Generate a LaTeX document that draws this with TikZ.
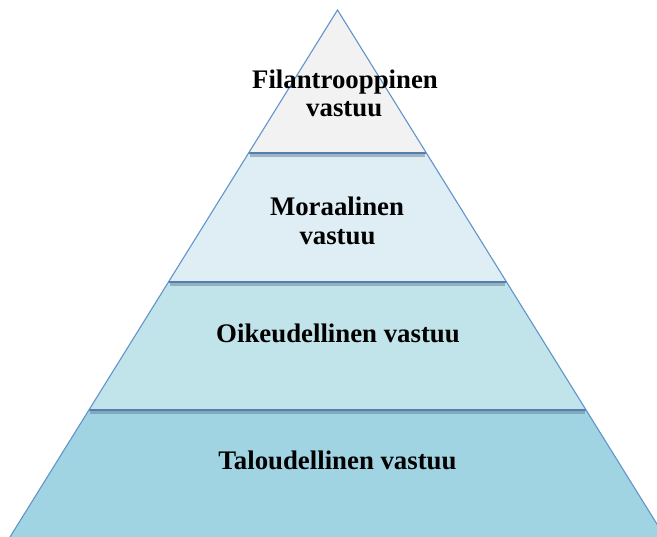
\documentclass[tikz,border=0pt]{standalone}
\usepackage{fontspec}
\setmainfont{Liberation Serif}
\usetikzlibrary{calc}
\definecolor{edgeblue}{RGB}{98,148,204}
\definecolor{shadowc}{RGB}{100,125,150}
\definecolor{bandA}{RGB}{242,242,242}
\definecolor{bandB}{RGB}{222,238,244}
\definecolor{bandC}{RGB}{193,228,234}
\definecolor{bandD}{RGB}{161,212,226}
\tikzset{
  band/.style={draw=none},
  sideline/.style={draw=edgeblue, line width=1.1pt, line join=miter},
  divider/.style={draw=edgeblue!85!black, line width=1.4pt},
  divshadow/.style={draw=shadowc, line width=2.4pt, opacity=0.5},
  label/.style={anchor=base, inner sep=0pt, font=\fontsize{26.8}{30}\selectfont\bfseries}
}
\begin{document}
\begin{tikzpicture}[x=1pt,y=-1pt]
\useasboundingbox (0,0) rectangle (657,537);
\coordinate (apex) at (337.5,10);
\coordinate (bl) at (10,537);
\coordinate (br) at (665,537);
% fractions along apex->base
\coordinate (l1) at ($(apex)!0.27135!(bl)$);
\coordinate (r1) at ($(apex)!0.27135!(br)$);
\coordinate (l2) at ($(apex)!0.51613!(bl)$);
\coordinate (r2) at ($(apex)!0.51613!(br)$);
\coordinate (l3) at ($(apex)!0.75901!(bl)$);
\coordinate (r3) at ($(apex)!0.75901!(br)$);
% bands
\fill[bandD] (l3) -- (r3) -- (br) -- (bl) -- cycle;
\fill[bandC] (l2) -- (r2) -- (r3) -- (l3) -- cycle;
\fill[bandB] (l1) -- (r1) -- (r2) -- (l2) -- cycle;
\fill[bandA] (apex) -- (r1) -- (l1) -- cycle;
% divider shadows and lines
\foreach \a/\b in {l1/r1,l2/r2,l3/r3}{
  \draw[divshadow] ($(\a)+(1.5,2.4)$) -- ($(\b)+(-1.5,2.4)$);
  \draw[divider] (\a) -- (\b);
}
% sides
\draw[sideline] (bl) -- (apex) -- (br);
% labels
\node[label] (fil1) at (345,88.3) {Filantrooppinen};
\node[label] (fil2) at (344.2,116.7) {vastuu};
\node[label] (mor1) at (337,215.7) {Moraalinen};
\node[label] (mor2) at (337.5,245) {vastuu};
\node[label] (oik) at (338,343) {Oikeudellinen vastuu};
\node[label] (tal) at (337.5,470) {Taloudellinen vastuu};
\end{tikzpicture}
\end{document}
